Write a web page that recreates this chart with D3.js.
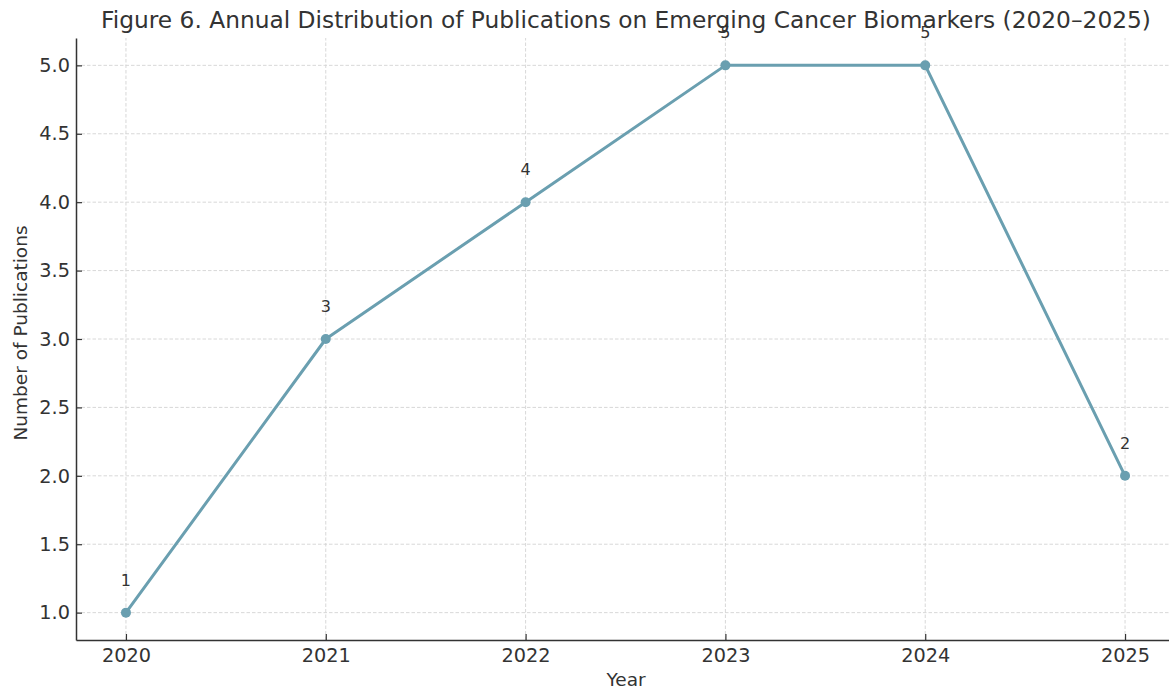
<!DOCTYPE html>
<html>
<head>
<meta charset="utf-8">
<script src="https://cdn.jsdelivr.net/npm/d3@7"></script>
<style>
  html, body { margin: 0; padding: 0; background: #fff; }
  svg { display: block; font-family: "DejaVu Sans", sans-serif; }
</style>
</head>
<body>
<svg id="chart" width="1169" height="690"></svg>
<script>
// Publications per year
const years = [2020, 2021, 2022, 2023, 2024, 2025];
const counts = [1, 3, 4, 5, 5, 2];
const yTicks = [1.0, 1.5, 2.0, 2.5, 3.0, 3.5, 4.0, 4.5, 5.0];

const W = 1169, H = 690;
const margin = { left: 76, top: 38, right: -6, bottom: 50 };
const svg = d3.select("#chart");

const x = d3.scaleLinear()
  .domain([years[0] - 0.25, years[years.length - 1] + 0.25])
  .range([margin.left, W - margin.right]);
const y = d3.scaleLinear()
  .domain([0.8, 5.2])
  .range([H - margin.bottom, margin.top]);

const textColor = "#333333";
const lineColor = "#6a9fb0";

// grid
const grid = svg.append("g");
grid.selectAll("line.gx").data(years).join("line")
  .attr("x1", d => x(d)).attr("x2", d => x(d))
  .attr("y1", y(0.8)).attr("y2", y(5.2))
  .attr("stroke", "#d4d4d4").attr("stroke-width", 0.9)
  .attr("stroke-dasharray", "3.5,2");
grid.selectAll("line.gy").data(yTicks).join("line")
  .attr("x1", x.range()[0]).attr("x2", x.range()[1])
  .attr("y1", d => y(d)).attr("y2", d => y(d))
  .attr("stroke", "#d4d4d4").attr("stroke-width", 0.9)
  .attr("stroke-dasharray", "3.5,2");

// axes, ticks pointing into the plot
const xAxis = svg.append("g")
  .attr("transform", `translate(0,${y(0.8)})`)
  .call(d3.axisBottom(x).tickValues(years).tickFormat(d3.format("d")).tickSize(-6).tickPadding(0).tickSizeOuter(0));
xAxis.selectAll(".tick text").attr("y", 8);
const yAxis = svg.append("g")
  .attr("transform", `translate(${x(years[0] - 0.25)},0)`)
  .call(d3.axisLeft(y).tickValues(yTicks).tickFormat(d3.format(".1f")).tickSize(-6).tickPadding(0).tickSizeOuter(0));
yAxis.selectAll(".tick text").attr("x", -6);
[xAxis, yAxis].forEach(g => {
  g.select(".domain").attr("stroke", textColor).attr("stroke-width", 1.5);
  g.selectAll(".tick line").attr("stroke", textColor).attr("stroke-width", 1.2);
  g.selectAll(".tick text").attr("fill", textColor)
    .style("font-size", "19.3px").style("font-family", "DejaVu Sans");
});

// line and markers
const line = d3.line().x((d, i) => x(years[i])).y(d => y(d));
svg.append("path").datum(counts)
  .attr("d", line).attr("fill", "none")
  .attr("stroke", lineColor).attr("stroke-width", 3)
  .attr("stroke-linejoin", "round");
svg.selectAll("circle.pt").data(counts).join("circle")
  .attr("cx", (d, i) => x(years[i])).attr("cy", d => y(d))
  .attr("r", 5).attr("fill", lineColor);

// value labels
svg.selectAll("text.val").data(counts).join("text")
  .attr("x", (d, i) => x(years[i])).attr("y", d => y(d) - 27)
  .attr("text-anchor", "middle")
  .attr("fill", textColor).style("font-size", "16px")
  .text(d => d);

// title and axis labels
svg.append("text").attr("x", 626).attr("y", 28)
  .attr("text-anchor", "middle").attr("fill", textColor)
  .style("font-size", "23.3px")
  .text("Figure 6. Annual Distribution of Publications on Emerging Cancer Biomarkers (2020–2025)");
svg.append("text").attr("x", 626).attr("y", 686)
  .attr("text-anchor", "middle").attr("fill", textColor)
  .style("font-size", "18.5px").text("Year");
svg.append("text")
  .attr("transform", `translate(27,333) rotate(-90)`)
  .attr("text-anchor", "middle").attr("fill", textColor)
  .style("font-size", "18.5px").text("Number of Publications");
</script>
</body>
</html>
